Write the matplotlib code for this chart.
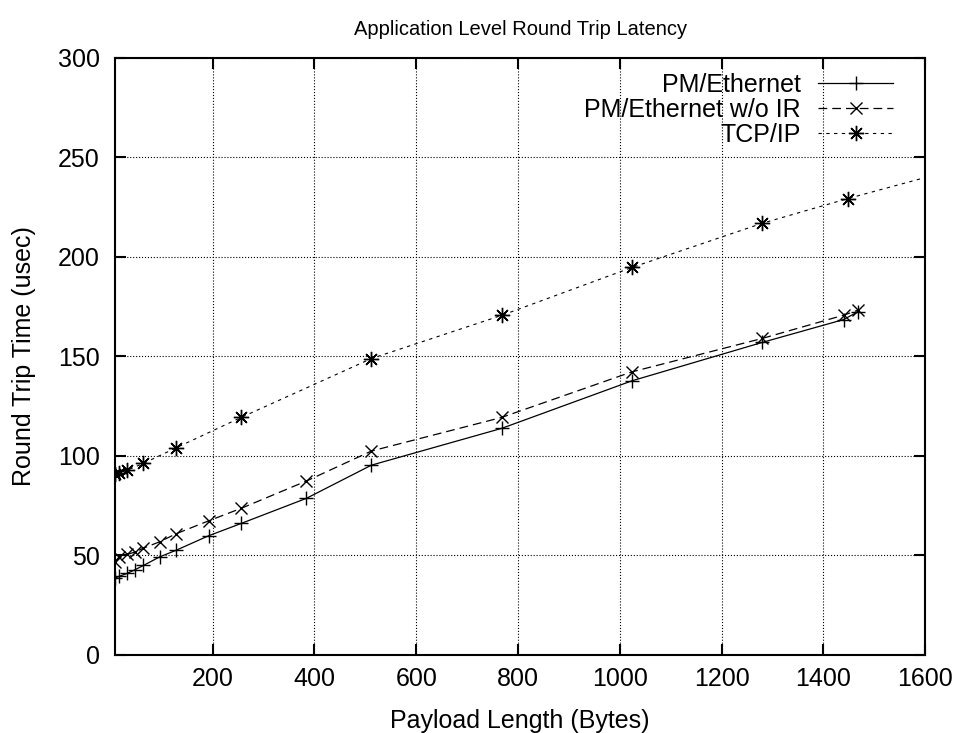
import matplotlib
matplotlib.use("Agg")
import matplotlib.pyplot as plt

plt.rcParams['font.family'] = ['Liberation Sans', 'DejaVu Sans']

# payload sizes (bytes) and round trip times (usec)
x_pm = [8, 16, 32, 48, 64, 96, 128, 192, 256, 384, 512, 768, 1024, 1280, 1440, 1468]
pm_eth = [38.4, 39.4, 40.9, 42.8, 44.9, 49.2, 52.5, 59.8, 66.0, 78.6, 95.3, 113.8,
          137.7, 157.0, 168.5, 172.4]
pm_eth_noir = [46.7, 49.2, 50.4, 51.7, 53.6, 56.8, 60.8, 67.3, 73.6, 87.3, 102.4,
               119.3, 142.2, 159.0, 170.7, 173.2]

x_tcp = [8, 16, 32, 64, 128, 256, 512, 768, 1024, 1280, 1448, 2048]
tcp_ip = [90.8, 91.2, 92.8, 96.2, 104.0, 119.3, 148.9, 170.6, 194.7, 216.9, 229.3, 271.0]

labels = ["PM/Ethernet", "PM/Ethernet w/o IR", "TCP/IP"]
xticks = [200, 400, 600, 800, 1000, 1200, 1400, 1600]
yticks = [0, 50, 100, 150, 200, 250, 300]

fig = plt.figure(figsize=(9.56, 7.33), dpi=100)
ax = fig.add_axes([0.1203, 0.1068, 0.8473, 0.8141])

ax.plot(x_pm, pm_eth, color='black', lw=0.9, ls='-', marker='+',
        ms=10, mew=1.0, label=labels[0])
ax.plot(x_pm, pm_eth_noir, color='black', lw=0.9, dashes=(7, 4), marker='x',
        ms=9, mew=1.0, label=labels[1])
ax.plot(x_tcp, tcp_ip, color='black', lw=0.8, dashes=(3, 4), marker=(8, 2, 0),
        ms=11, mew=1.0, label=labels[2])

ax.set_xlim(8, 1600)
ax.set_ylim(0, 300)
ax.set_xticks(xticks)
ax.set_yticks(yticks)
ax.tick_params(direction='in', length=8, width=1.5, top=True, right=True,
               labelsize=18)
ax.tick_params(axis='x', pad=9)
ax.tick_params(axis='y', pad=11)
for s in ax.spines.values():
    s.set_linewidth(1.5)
ax.grid(True, color='black', ls=':', lw=0.8)

ax.set_xlabel("Payload Length (Bytes)", fontsize=18, labelpad=12.5)
ax.set_ylabel("Round Trip Time (usec)", fontsize=18, labelpad=16)
fig.text(0.544, 0.96, "Application Level Round Trip Latency", fontsize=14.5,
         ha='center', va='center')

# markerfirst=False -> text right aligned, sample on the right (gnuplot style)
ax.legend(loc='upper right', bbox_to_anchor=(0.9605, 0.975), markerfirst=False,
          frameon=False, fontsize=18, handlelength=3.0, labelspacing=0.04,
          borderpad=0, borderaxespad=0, handletextpad=0.68)

fig.savefig("out.png", dpi=100)
